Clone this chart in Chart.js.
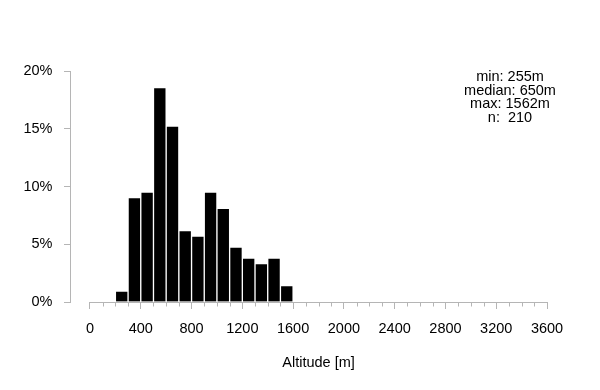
<!DOCTYPE html>
<html>
<head>
<meta charset="utf-8">
<script src="https://cdn.jsdelivr.net/npm/chart.js"></script>
<style>
  html, body { margin: 0; padding: 0; background: #fff; }
  #wrap { width: 600px; height: 390px; }
</style>
</head>
<body>
<div id="wrap"><canvas id="hist"></canvas></div>
<script>
// histogram bins (lower edge, metres) and share of sites in each bin (%)
const binStarts = [200, 300, 400, 500, 600, 700, 800, 900, 1000, 1100, 1200, 1300, 1400, 1500];
const binWidth = 100;
const percents = [0.95, 9.05, 9.52, 18.57, 15.24, 6.19, 5.71, 9.52, 8.10, 4.76, 3.81, 3.33, 3.81, 1.43];
const xTickValues = [0, 400, 800, 1200, 1600, 2000, 2400, 2800, 3200, 3600];
const yTickValues = [0, 5, 10, 15, 20];
const statsLines = ['min: 255m', 'median: 650m', 'max: 1562m', 'n:  210'];

const axisGrey = '#b5b5b5';
const fontFam = '"Liberation Sans", Arial, sans-serif';

// R style axis pieces: x line only between first and last tick, small minor ticks, stats text
const rAxisExtras = {
  id: 'rAxisExtras',
  afterDraw(chart) {
    const ctx = chart.ctx;
    const x = chart.scales.x;
    const yb = Math.round(chart.chartArea.bottom) + 0.5;
    ctx.save();
    ctx.strokeStyle = axisGrey;
    ctx.lineWidth = 1;
    ctx.beginPath();
    ctx.moveTo(x.getPixelForValue(xTickValues[0]), yb);
    ctx.lineTo(x.getPixelForValue(xTickValues[xTickValues.length - 1]), yb);
    for (let v = xTickValues[0]; v <= xTickValues[xTickValues.length - 1]; v += binWidth) {
      if (xTickValues.includes(v)) continue;
      const px = Math.round(x.getPixelForValue(v)) + 0.5;
      ctx.moveTo(px, yb);
      ctx.lineTo(px, yb + 4);
    }
    ctx.stroke();

    ctx.fillStyle = '#000';
    ctx.font = '14.5px ' + fontFam;
    ctx.textAlign = 'center';
    ctx.textBaseline = 'middle';
    statsLines.forEach((s, i) => ctx.fillText(s, 510, 77 + i * 13.7));
    ctx.restore();
  }
};

const oChart = new Chart(document.getElementById('hist').getContext('2d'), {
  type: 'bar',
  data: {
    datasets: [{
      data: binStarts.map((b, i) => ({ x: b + binWidth / 2, y: percents[i] })),
      backgroundColor: '#000',
      borderColor: '#fff',
      borderWidth: 1,
      borderSkipped: 'start',
      barPercentage: 1,
      categoryPercentage: 1
    }]
  },
  options: {
    responsive: true,
    maintainAspectRatio: false,
    animation: false,
    layout: { padding: { left: 0, top: 71, right: 33, bottom: 0 } },
    plugins: {
      legend: { display: false },
      tooltip: { enabled: false }
    },
    scales: {
      x: {
        type: 'linear',
        min: -157.5,
        max: 3757.5,
        offset: false,
        afterFit(scale) { scale.height = 88; },
        afterBuildTicks(scale) { scale.ticks = xTickValues.map(v => ({ value: v })); },
        ticks: {
          autoSkip: false,
          maxRotation: 0,
          padding: 11,
          color: '#000',
          font: { family: fontFam, size: 14.5 },
          callback: v => String(v)
        },
        grid: { offset: false, drawOnChartArea: false, tickLength: 7, color: axisGrey },
        border: { display: false },
        title: {
          display: true,
          text: 'Altitude [m]',
          color: '#000',
          font: { family: fontFam, size: 14.5 },
          padding: { top: 18, bottom: 18 }
        }
      },
      y: {
        min: 0,
        max: 20,
        afterFit(scale) { scale.width = 70; },
        afterBuildTicks(scale) { scale.ticks = yTickValues.map(v => ({ value: v })); },
        ticks: {
          padding: 11.5,
          color: '#000',
          font: { family: fontFam, size: 14.5 },
          callback: v => v + '%'
        },
        grid: { drawOnChartArea: false, tickLength: 6, color: axisGrey },
        border: { display: true, color: axisGrey }
      }
    }
  },
  plugins: [rAxisExtras]
});
</script>
</body>
</html>
